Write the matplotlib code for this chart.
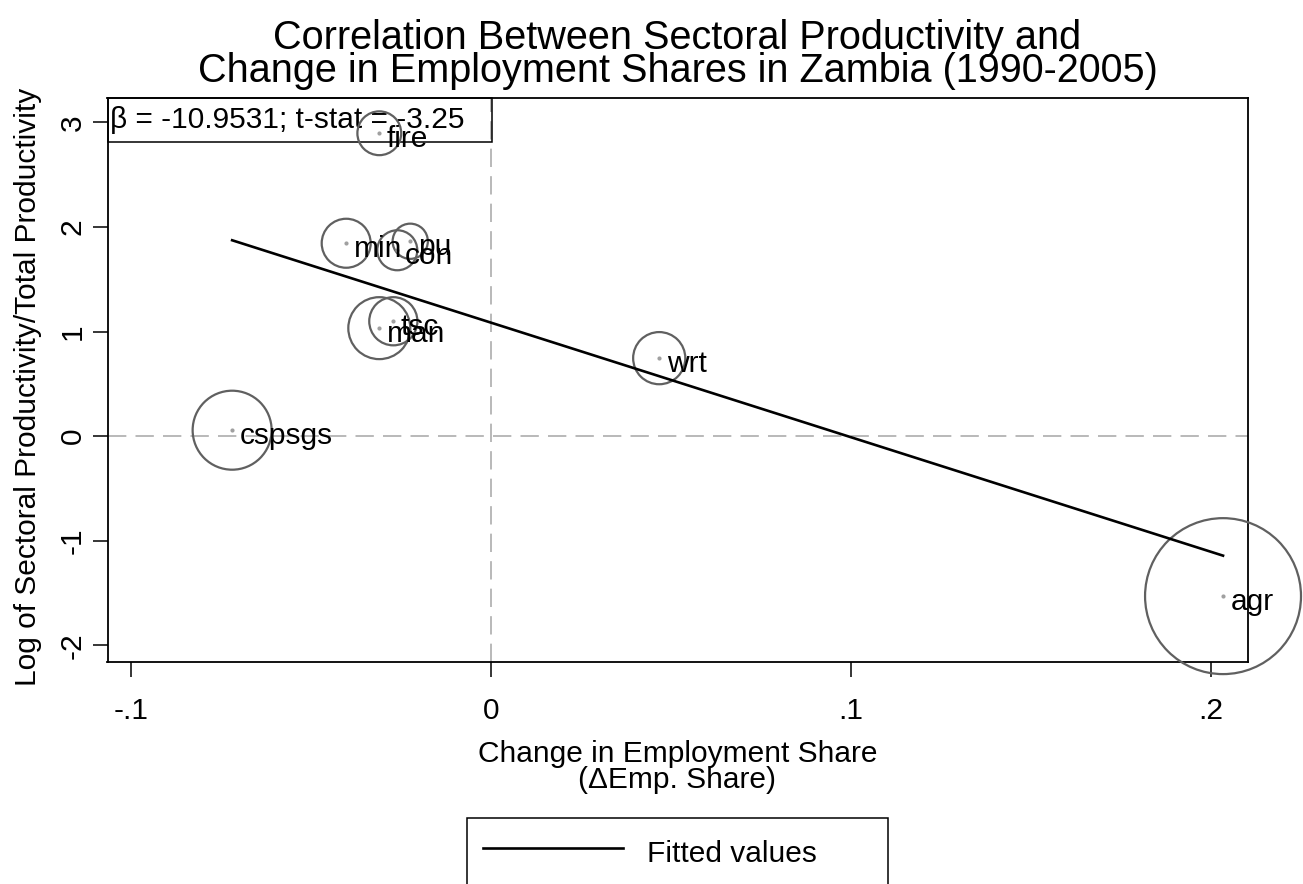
import matplotlib
matplotlib.use("Agg")
import matplotlib.pyplot as plt
import numpy as np
from matplotlib.patches import Rectangle
from matplotlib.lines import Line2D

plt.rcParams['font.family'] = ['Liberation Sans', 'DejaVu Sans']

# ---- data ----
sectors = ["fire", "min", "pu", "con", "tsc", "man", "wrt", "cspsgs", "agr"]
d_emp_share = [-0.0311, -0.0403, -0.0225, -0.0261, -0.0272, -0.0311, 0.0467, -0.0720, 0.2034]
log_rel_prod = [2.897, 1.845, 1.864, 1.778, 1.099, 1.033, 0.746, 0.057, -1.530]
weights = [4.8, 6.0, 3.1, 4.0, 5.8, 9.6, 6.8, 15.6, 60.8]
beta = -10.9531
intercept = 1.085
tstat = -3.25
xticks = [-0.1, 0, 0.1, 0.2]
xticklabels = ["-.1", "0", ".1", ".2"]
yticks = [-2, -1, 0, 1, 2, 3]

FS = 21.5
W, H = 1303, 884
fig = plt.figure(figsize=(W / 100, H / 100), dpi=100)
L, R, T, B = 107.5, 1247.5, 97.5, 662
ax = fig.add_axes([L / W, 1 - B / H, (R - L) / W, (B - T) / H])

x = np.array(d_emp_share)
y = np.array(log_rel_prod)
w = np.array(weights)

ax.axvline(0, color='#a6a6a6', lw=1.1, dashes=(12, 6), zorder=1)
ax.axhline(0, color='#a6a6a6', lw=1.1, dashes=(12, 6), zorder=1)

ax.scatter(x, y, s=207.36 * w, facecolors='none', edgecolors='#606060', linewidths=1.6,
           zorder=3, clip_on=False)
ax.scatter(x, y, s=9, color='#a0a0a0', linewidths=0, zorder=4, clip_on=False)
for xi, yi, lab in zip(x, y, sectors):
    ax.annotate(lab, (xi, yi), xytext=(5.5, -4), textcoords='offset points',
                ha='left', va='center', fontsize=FS, color='black', zorder=5)

xs = np.array([x.min(), x.max()])
ax.plot(xs, intercept + beta * xs, color='black', lw=1.9, zorder=4, label='Fitted values')

ax.set_xlim(-0.10664, 0.2102)
ax.set_ylim(-2.16, 3.239)
ax.set_xticks(xticks)
ax.set_xticklabels(xticklabels)
ax.set_yticks(yticks)
ax.set_yticklabels([str(t) for t in yticks], rotation=90, va='center')
ax.tick_params(axis='both', length=11, width=1.1, labelsize=FS)
ax.tick_params(axis='x', pad=14.5)
ax.tick_params(axis='y', pad=4)
for s in ax.spines.values():
    s.set_linewidth(1.3)

# annotation box
ax.add_patch(Rectangle((0, 1 - 44 / (B - T)), (492 - L) / (R - L), 44 / (B - T),
                       transform=ax.transAxes, fill=False, edgecolor='black', lw=1.1, zorder=2,
                       clip_on=False))
ax.text(3 / (R - L), 1 - 22 / (B - T), f"β = {beta:.4f}; t-stat = {tstat:.2f}",
        transform=ax.transAxes, ha='left', va='center', fontsize=FS, zorder=2)

ax.set_xlabel("Change in Employment Share\n(ΔEmp. Share)", fontsize=FS, linespacing=0.9)
ax.xaxis.set_label_coords(0.5, -(740 - B) / (B - T))
ax.set_ylabel("Log of Sectoral Productivity/Total Productivity", fontsize=FS)
ax.yaxis.set_label_coords((28 - L) / (R - L), 1 - (387 - T) / (B - T))
ax.yaxis.label.set_verticalalignment('center')

fig.suptitle("Correlation Between Sectoral Productivity and\nChange in Employment Shares in Zambia (1990-2005)",
             x=(L + R) / 2 / W, y=1 - 19 / H, fontsize=28.5, va='top', linespacing=0.85)

leg = fig.legend(handles=[Line2D([], [], color='black', lw=1.9)], labels=['Fitted values'],
                 loc='upper left', bbox_to_anchor=(467 / W, 1 - 818 / H, (888 - 467) / W, 0.0),
                 mode='expand', fontsize=FS, handlelength=4.67, handletextpad=0.8,
                 handleheight=1.45, borderpad=0.55, borderaxespad=0, frameon=True,
                 fancybox=False, framealpha=1.0)
leg.get_frame().set_edgecolor('black')
leg.get_frame().set_linewidth(1.1)

fig.savefig("out.png", dpi=100)
